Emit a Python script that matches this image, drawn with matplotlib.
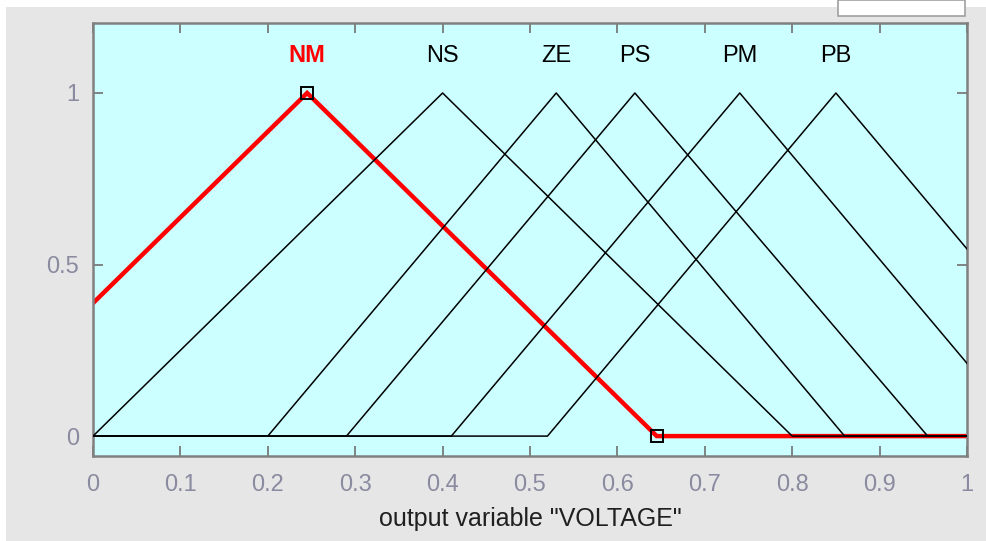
import numpy as np
import matplotlib.pyplot as plt
from matplotlib.patches import Rectangle

plt.rcParams['font.family'] = ['Liberation Sans', 'DejaVu Sans']

# triangular membership functions of output variable "VOLTAGE"
mf_names = ["NM", "NS", "ZE", "PS", "PM", "PB"]
mf_params = [
    [-0.155, 0.245, 0.645],
    [0.0, 0.40, 0.80],
    [0.20, 0.53, 0.86],
    [0.29, 0.62, 0.955],
    [0.41, 0.74, 1.07],
    [0.52, 0.85, 1.18],
]
selected = "NM"
x_ticks = [0, 0.1, 0.2, 0.3, 0.4, 0.5, 0.6, 0.7, 0.8, 0.9, 1]
x_tick_labels = ["0", "0.1", "0.2", "0.3", "0.4", "0.5", "0.6", "0.7", "0.8", "0.9", "1"]
y_ticks = [0, 0.5, 1]
y_tick_labels = ["0", "0.5", "1"]


def trimf_points(p):
    a, b, c = p
    xs = np.unique(np.clip([0, a, b, c, 1], 0, 1))
    ys = np.interp(xs, [a, b, c], [0, 1, 0], left=0, right=0)
    return xs, ys


fig = plt.figure(figsize=(9.87, 5.41), dpi=100, facecolor="#e6e6e6")

# white strips of the window around the plot
fig.patches.append(Rectangle((0, 1 - 7 / 541), 1, 7 / 541, transform=fig.transFigure,
                             facecolor="white", edgecolor="none", zorder=0))
fig.patches.append(Rectangle((0, 0), 6 / 987, 1, transform=fig.transFigure,
                             facecolor="white", edgecolor="none", zorder=0))
fig.patches.append(Rectangle((838 / 987, 1 - 16 / 541), 127 / 987, 16 / 541,
                             transform=fig.transFigure, facecolor="white",
                             edgecolor="#a0a0a0", lw=1.2, zorder=1))

ax = fig.add_axes([93 / 987, 1 - 456 / 541, 874 / 987, 433 / 541])
ax.set_facecolor("#ccffff")

for name, p in zip(mf_names, mf_params):
    xs, ys = trimf_points(p)
    if name == selected:
        ax.plot(xs, ys, color="red", lw=3.2, zorder=2, solid_joinstyle="miter")
        ax.plot([p[1], p[2]], [1, 0], ls="none", marker="s", ms=9,
                mfc="none", mec="black", mew=1.4, zorder=4)
        ax.text(p[1], 1.108, name, color="red", fontsize=17, fontweight="bold",
                ha="center", va="center")
    else:
        ax.plot(xs, ys, color="black", lw=1.1, zorder=3)
        ax.text(p[1], 1.108, name, color="black", fontsize=17,
                ha="center", va="center")

ax.set_xlim(0, 1)
ax.set_ylim(-0.058, 1.204)
ax.set_xticks(x_ticks)
ax.set_xticklabels(x_tick_labels)
ax.set_yticks(y_ticks)
ax.set_yticklabels(y_tick_labels)
ax.tick_params(direction="in", length=7, width=1.2, color="#707070",
               labelcolor="#8a8aa0", labelsize=17, top=True, right=True)
ax.tick_params(axis="x", pad=13)
ax.tick_params(axis="y", pad=10)
for s in ax.spines.values():
    s.set_color("#808080")
    s.set_linewidth(1.8)

ax.set_xlabel('output variable "VOLTAGE"', fontsize=18, color="#202020", labelpad=8)

fig.savefig("out.png", dpi=100, facecolor=fig.get_facecolor())
